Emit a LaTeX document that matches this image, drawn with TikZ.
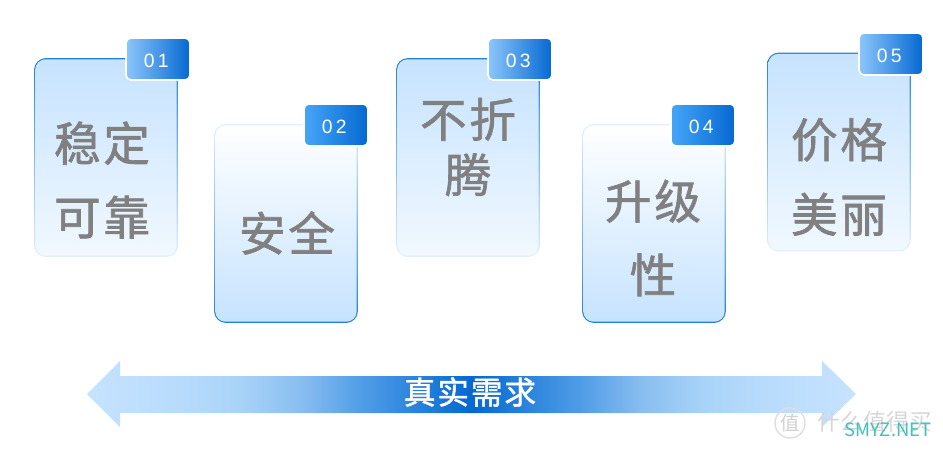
\documentclass[tikz,border=0pt]{standalone}
\usepackage{fontspec}
\setmainfont{Noto Sans CJK SC}
\newfontfamily\cardfont[LetterSpace=6,FakeBold=1.4]{Noto Sans CJK SC}
\newfontfamily\numfont[LetterSpace=17]{Liberation Sans}
\definecolor{cardgray}{HTML}{808080}
\definecolor{deepblue}{HTML}{0568D2}
\definecolor{paleblue}{HTML}{C6E3FF}
\definecolor{edgeblue}{HTML}{1F82DC}
\definecolor{faintblue}{HTML}{F1F8FF}
\definecolor{edgefaint}{HTML}{E2F0FD}
\definecolor{tablight}{HTML}{8CC6FB}
\definecolor{tabmid}{HTML}{45A6F8}
\definecolor{bandone}{HTML}{B8DBFC}
\definecolor{bandtwo}{HTML}{A8D3F8}
\definecolor{bandthree}{HTML}{88BDF0}
\definecolor{bandfour}{HTML}{4E9CE6}
\pgfdeclarehorizontalshading{needsband}{100bp}{color(0bp)=(paleblue); color(25bp)=(paleblue); color(31bp)=(bandone); color(35bp)=(bandtwo); color(39bp)=(bandthree); color(43bp)=(bandfour); color(50bp)=(deepblue); color(57bp)=(bandfour); color(61bp)=(bandthree); color(65bp)=(bandtwo); color(69bp)=(bandone); color(75bp)=(paleblue); color(100bp)=(paleblue)}
\tikzset{
  edgeup/.style={rounded corners=.24cm, inner sep=0pt, minimum width=2.88cm, minimum height=3.98cm, top color=edgeblue, bottom color=edgefaint},
  edgedown/.style={rounded corners=.24cm, inner sep=0pt, minimum width=2.88cm, minimum height=3.98cm, top color=edgefaint, bottom color=edgeblue},
  fillup/.style={rounded corners=.21cm, inner sep=0pt, minimum width=2.83cm, minimum height=3.93cm, top color=paleblue, bottom color=faintblue},
  filldown/.style={rounded corners=.21cm, inner sep=0pt, minimum width=2.83cm, minimum height=3.93cm, top color=white, bottom color=paleblue},
  tabbox/.style={rounded corners=.1cm, draw=white, line width=.9pt, inner sep=0pt, minimum width=1.28cm, minimum height=.84cm, text height=.36cm, left color=#1, right color=deepblue, text=white, font=\numfont\fontsize{11}{14}\selectfont, execute at end node=\kern2pt},
  cardtext/.style={text=cardgray, align=center, inner sep=0pt, font=\cardfont\fontsize{26.5}{#1}\selectfont},
}
\begin{document}
\begin{tikzpicture}[x=.02cm, y=-.02cm]
\useasboundingbox (0,0) rectangle (943,450);

\node[edgeup] (edge1) at (106,157.5) {};
\node[fillup] (card1) at (edge1) {};
\node[tabbox=tablight] (tab1) at (158,59) {01};
\node[cardtext=42pt] (text1) at (102,180) {稳定\\可靠};

\node[edgedown] (edge2) at (286,223.5) {};
\node[filldown] (card2) at (edge2) {};
\node[tabbox=tabmid] (tab2) at (336,125) {02};
\node[cardtext=42pt] (text2) at (287,233) {安全};

\node[edgeup] (edge3) at (468,157.5) {};
\node[fillup] (card3) at (edge3) {};
\node[tabbox=tablight] (tab3) at (520,59) {03};
\node[cardtext=31.5pt] (text3) at (468,147) {不折\\腾};

\node[edgedown] (edge4) at (654,223.5) {};
\node[filldown] (card4) at (edge4) {};
\node[tabbox=tabmid] (tab4) at (703,125) {04};
\node[cardtext=42pt] (text4) at (653,238) {升级\\性};

\node[edgeup] (edge5) at (839,152) {};
\node[fillup] (card5) at (edge5) {};
\node[tabbox=tablight] (tab5) at (891,54) {05};
\node[cardtext=42.5pt] (text5) at (839,177) {价格\\美丽};

\shade[shading=needsband]
  (87,394) -- (120,361) -- (120,376) -- (822,376) -- (822,361) -- (856,394) -- (822,427) -- (822,413) -- (120,413) -- (120,427) -- cycle;
\node[text=white, inner sep=0pt, font=\cardfont\fontsize{18}{20}\selectfont] (needs) at (470,392) {真实需求};

\node[draw=black!13, line width=.8pt, circle, minimum size=.6cm, inner sep=0pt, text=black!18, font=\fontsize{11}{13}\selectfont] (markseal) at (790,423) {值};
\node[text=black!16, inner sep=0pt, font=\fontsize{13}{15}\selectfont] (marksite) at (875,422) {什么值得买};
\node[text=teal!65!cyan!75!white, inner sep=0pt, font=\fontsize{10.5}{13}\selectfont] (markname) at (888,430) {SMYZ.NET};

\end{tikzpicture}
\end{document}
